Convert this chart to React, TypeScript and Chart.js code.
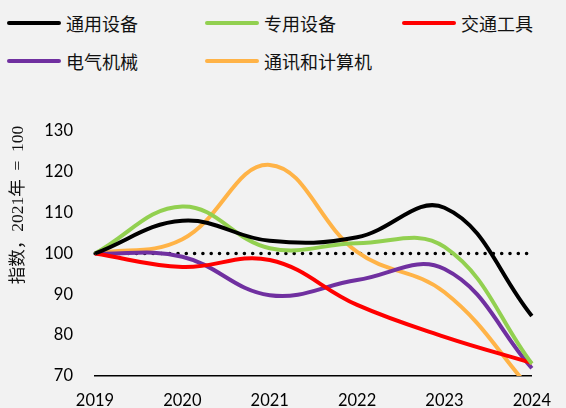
import React, { useEffect, useRef } from "react";
import { Chart, registerables } from "chart.js";

Chart.register(...registerables);

const years = ["2019", "2020", "2021", "2022", "2023", "2024"];
const generalEquip = [100, 108, 103.1, 104, 111.2, 84.7];
const specialEquip = [100, 111.5, 101.3, 102.5, 101.6, 73];
const transport = [100, 96.7, 98.4, 87.4, 79.6, 73.2];
const electrical = [100, 99.2, 89.8, 93.5, 96.2, 71.9];
const telecom = [100, 103.5, 121.7, 100.4, 90.5, 66.4];
const baseline = [100, 100, 100, 100, 100, 100];
const yTicks = [70, 80, 90, 100, 110, 120, 130];

const seriesNames = ["通用设备", "专用设备", "交通工具", "电气机械", "通讯和计算机"];
const seriesColors = ["#000000", "#92D050", "#FF0000", "#7030A0", "#FFB347"];
const seriesData = [generalEquip, specialEquip, transport, electrical, telecom];
const yTitle = "指数，2021年  =  100";

const legendPos = [
  { left: 7, top: 22.5 },
  { left: 205, top: 22.5 },
  { left: 402, top: 22.5 },
  { left: 7, top: 60.5 },
  { left: 205, top: 60.5 },
];

const yTitlePlugin = {
  id: "yTitlePlugin",
  afterDraw(chart: any) {
    const ctx = chart.ctx;
    ctx.save();
    ctx.translate(18, 205);
    ctx.rotate(-Math.PI / 2);
    ctx.textAlign = "center";
    ctx.textBaseline = "middle";
    ctx.fillStyle = "#111";
    ctx.font = '17.5px "Liberation Serif", "Noto Sans CJK SC", serif';
    ctx.fillText(yTitle, 0, 0);
    ctx.restore();
  },
};

export default function App() {
  const canvasRef = useRef<HTMLCanvasElement | null>(null);

  useEffect(() => {
    if (!canvasRef.current) return;
    const datasets: any[] = seriesData.map((d, i) => ({
      label: seriesNames[i],
      data: d,
      borderColor: seriesColors[i],
      backgroundColor: seriesColors[i],
      borderWidth: 4,
      pointRadius: 0,
      tension: 0.4,
      fill: false,
      clip: { left: 6, right: 6, top: 6, bottom: 0 },
      order: i === 0 ? 0 : 1,
    }));
    datasets.unshift({
      label: "基准",
      data: baseline,
      borderColor: "#000000",
      borderWidth: 3.6,
      borderDash: [0, 8.3],
      borderCapStyle: "round",
      pointRadius: 0,
      tension: 0,
      fill: false,
      order: 5,
    });
    const chart = new Chart(canvasRef.current, {
      type: "line",
      data: { labels: years, datasets },
      options: {
        responsive: false,
        animation: false,
        layout: { padding: { top: 131, left: 0, right: 19, bottom: 0 } },
        plugins: {
          legend: { display: false },
          tooltip: { enabled: false },
          title: { display: false },
        },
        scales: {
          x: {
            type: "category",
            offset: false,
            grid: { display: false, drawTicks: false },
            border: { display: true, color: "#000", width: 1.5 },
            ticks: {
              color: "#000",
              padding: 15,
              maxRotation: 0,
              autoSkip: false,
              font: { family: "Lato, 'Open Sans', sans-serif", size: 16.5 },
            },
            afterFit(scale: any) {
              scale.height = 32;
            },
          },
          y: {
            min: 70,
            max: 130,
            grid: { display: false, drawTicks: false },
            border: { display: false },
            afterBuildTicks(scale: any) {
              scale.ticks = yTicks.map((v) => ({ value: v }));
            },
            ticks: {
              color: "#000",
              padding: 22,
              font: { family: "Lato, 'Open Sans', sans-serif", size: 16.5 },
            },
            afterFit(scale: any) {
              scale.width = 95;
            },
          },
        },
      },
      plugins: [yTitlePlugin],
    });
    return () => chart.destroy();
  }, []);

  return (
    <div
      style={{
        position: "fixed",
        left: 0,
        top: 0,
        width: 566,
        height: 408,
        background: "#F2F2F2",
        overflow: "hidden",
      }}
    >
      {seriesNames.map((name, i) => (
        <div
          key={name}
          style={{
            position: "absolute",
            left: legendPos[i].left,
            top: legendPos[i].top - 14,
            height: 28,
            display: "flex",
            alignItems: "center",
            whiteSpace: "nowrap",
          }}
        >
          <span
            style={{
              display: "inline-block",
              width: 54,
              height: 4,
              borderRadius: 2,
              background: seriesColors[i],
              marginRight: 5,
            }}
          />
          <span
            style={{
              fontFamily: '"Noto Sans CJK SC", sans-serif',
              fontSize: 18,
              color: "#111",
              lineHeight: "28px",
            }}
          >
            {name}
          </span>
        </div>
      ))}
      <canvas
        ref={canvasRef}
        width={566}
        height={408}
        style={{ position: "absolute", left: 0, top: 0, width: 566, height: 408 }}
      />
    </div>
  );
}
